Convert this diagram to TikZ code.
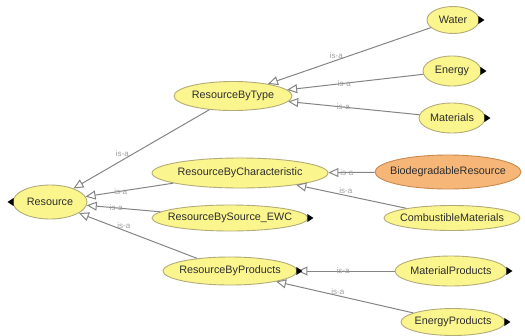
\documentclass[tikz,border=0pt]{standalone}
\usepackage{fontspec}
\setmainfont{Liberation Sans}
\usetikzlibrary{arrows.meta,shapes.geometric}
\definecolor{clsfill}{HTML}{FBF58E}
\definecolor{clsline}{HTML}{B3AC78}
\definecolor{selfill}{HTML}{F6B677}
\definecolor{selline}{HTML}{C98A4E}
\definecolor{edgegray}{HTML}{858585}
\definecolor{labgray}{HTML}{A0A0A0}
\definecolor{txt}{HTML}{2E2E2E}
\tikzset{
  cls/.style={ellipse, draw=clsline, fill=clsfill, line width=0.9pt,
    inner xsep=-22pt, inner ysep=0pt,
    text=txt, font=\fontsize{10.8}{12}\selectfont},
  sel/.style={cls, draw=selline, fill=selfill},
  isa/.style={draw=edgegray, line width=1pt,
    -{Triangle[open, length=10pt, width=9pt, fill=white]}},
  isalab/.style={text=labgray, font=\fontsize{8}{9}\selectfont, inner sep=0pt},
  toggle/.style={fill=black}
}
% small black triangle that marks a collapsed branch
\newcommand\foldright[1]{\fill[toggle] ([xshift=-1pt]#1.east) ++(0,4pt) -- ++(6pt,-4pt) -- ++(-6pt,-4pt) -- cycle;}
\newcommand\foldleft[1]{\fill[toggle] ([xshift=1pt]#1.west) ++(0,4pt) -- ++(-6pt,-4pt) -- ++(6pt,-4pt) -- cycle;}
\begin{document}
\begin{tikzpicture}[x=1pt, y=-1pt]
\useasboundingbox[fill=white] (0,0) rectangle (525,335);

% classes
\node[cls, minimum width=74pt, minimum height=34pt] (res) at (50,202) {Resource};
\node[cls, minimum width=118pt, minimum height=29pt] (rbt) at (233,96) {ResourceByType};
\node[cls, minimum width=176pt, minimum height=30pt] (rbc) at (240,173) {ResourceByCharacteristic};
\node[cls, minimum width=156pt, minimum height=26pt] (rbs) at (230,218) {ResourceBySource\_EWC};
\node[cls, minimum width=134pt, minimum height=28pt] (rbp) at (230,271) {ResourceByProducts};
\node[cls, minimum width=52pt, minimum height=27pt] (water) at (453,20) {Water};
\node[cls, minimum width=58pt, minimum height=30pt] (energy) at (452,71) {Energy};
\node[cls, minimum width=66pt, minimum height=30pt] (mat) at (452,118) {Materials};
\node[sel, minimum width=146pt, minimum height=34pt] (bio) at (448,172) {BiodegradableResource};
\node[cls, minimum width=136pt, minimum height=25pt] (comb) at (452,218) {CombustibleMaterials};
\node[cls, minimum width=112pt, minimum height=30pt] (matp) at (451,271) {MaterialProducts};
\node[cls, minimum width=104pt, minimum height=27pt] (enp) at (453,322) {EnergyProducts};

% subclass links
\draw[isa] (rbt) -- node[isalab, pos=0.64, above=3pt] {is-a} (res);
\draw[isa] (rbc) -- node[isalab, pos=0.6] {is-a} (res);
\draw[isa] (rbs) -- node[isalab, pos=0.6] {is-a} (res);
\draw[isa] (rbp) -- node[isalab, pos=0.62, above=1pt] {is-a} (res);
\draw[isa] (water) -- node[isalab, pos=0.58, above=1pt] {is-a} (rbt);
\draw[isa] (energy) -- node[isalab, pos=0.58] {is-a} (rbt);
\draw[isa] (mat) -- node[isalab, pos=0.58] {is-a} (rbt);
\draw[isa] (bio) -- node[isalab, pos=0.6] {is-a} (rbc);
\draw[isa] (comb) -- node[isalab, pos=0.55, above=1pt] {is-a} (rbc);
\draw[isa] (matp) -- node[isalab, pos=0.53] {is-a} (rbp);
\draw[isa] (enp) -- node[isalab, pos=0.55, above=1pt] {is-a} (rbp);

% collapsed-branch markers
\foldleft{res}
\foldright{rbs}
\foldright{rbp}
\foldright{water}
\foldright{energy}
\foldright{mat}
\foldright{matp}
\foldright{enp}
\end{tikzpicture}
\end{document}
